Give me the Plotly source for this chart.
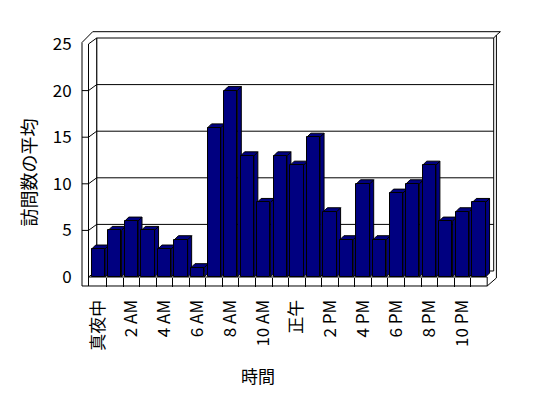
import plotly.graph_objects as go

# ---- data ----
hours = list(range(24))
visits = [3, 5, 6, 5, 3, 4, 1, 16, 20, 13, 8, 13, 12, 15, 7, 4, 10, 4, 9, 10, 12, 6, 7, 8]
tick_hours = [0, 2, 4, 6, 8, 10, 12, 14, 16, 18, 20, 22]
tick_labels = ["真夜中", "2 AM", "4 AM", "6 AM", "8 AM", "10 AM", "正午",
               "2 PM", "4 PM", "6 PM", "8 PM", "10 PM"]
y_ticks = [0, 5, 10, 15, 20, 25]
y_title = "訪問数の平均"
x_title = "時間"

# ---- geometry (pixels) ----
W, H = 548, 398
X0, CW = 90.0, 16.55          # pixel of x=-0.5, width of one category
Y0, S = 277.0, 9.32           # pixel of y=0, pixels per unit
XMAX = 24.0
YMAX = 25.0
DX, DY = 8.2, 6.0             # wall depth in pixels
BDX, BDY = 4.0, 4.0           # bar depth in pixels
BW = 0.8

def fx(i):
    return X0 + (i + 0.5) * CW

def fy(v):
    return Y0 - v * S

def P(x, y):
    return x / W, 1 - y / H

FONT = "Noto Sans CJK JP, DejaVu Sans, sans-serif"

fig = go.Figure()

# bar side and top faces (through data scales)
ddx = BDX / CW
ddy = BDY / S
sx, sy, tx, ty = [], [], [], []
for h, v in zip(hours, visits):
    xl, xr = h - BW / 2, h + BW / 2
    sx += [xr, xr + ddx, xr + ddx, xr, xr, None]
    sy += [0, ddy, v + ddy, v, 0, None]
    tx += [xl, xl + ddx, xr + ddx, xr, xl, None]
    ty += [v, v + ddy, v + ddy, v, v, None]

fig.add_trace(go.Scatter(x=sx, y=sy, mode="lines", fill="toself",
                         fillcolor="#000080", line=dict(color="black", width=1),
                         hoverinfo="skip", showlegend=False, zorder=0))
fig.add_trace(go.Scatter(x=tx, y=ty, mode="lines", fill="toself",
                         fillcolor="#000080", line=dict(color="black", width=1),
                         hoverinfo="skip", showlegend=False, zorder=0))
fig.add_trace(go.Bar(x=hours, y=visits, width=BW,
                     marker=dict(color="#000080", line=dict(color="black", width=1)),
                     showlegend=False, zorder=1))

# ---- frame (walls / floor) ----
left_out = 82.0
left_in = left_out + 6.5
back_l = left_in + DX
right_front = X0 + 24 * CW
back_r = right_front + 6.5
outer_r = back_r + 2.7
top_front = fy(YMAX)
top_back = top_front - DY
top_outer = top_back - 6.3
floor_bot = Y0 + 9

def path(pts, close=False):
    s = ""
    for k, (x, y) in enumerate(pts):
        a, b = P(x, y)
        s += ("M" if k == 0 else "L") + f"{a:.5f},{b:.5f} "
    return s + ("Z" if close else "")

shapes = []
line = dict(color="black", width=1)
# outer silhouette
shapes.append(dict(type="path", xref="paper", yref="paper", layer="below",
                   path=path([(left_out, floor_bot), (left_out, top_front - 1.5),
                              (left_out + 10.7, top_outer), (outer_r + 4, top_outer),
                              (outer_r, top_outer + 3.4), (outer_r, Y0 + 1),
                              (right_front, floor_bot)], True),
                   fillcolor="white", line=line))
# back wall
shapes.append(dict(type="path", xref="paper", yref="paper", layer="below",
                   path=path([(back_l, top_back), (back_r, top_back),
                              (back_r, Y0 - DY), (back_l, Y0 - DY)], True),
                   fillcolor="white", line=line))
# side wall inner surface
shapes.append(dict(type="path", xref="paper", yref="paper", layer="below",
                   path=path([(left_in, top_front), (back_l, top_back),
                              (back_l, Y0 - DY), (left_in, Y0)], True),
                   fillcolor="white", line=line))
# top-right corner diagonal
shapes.append(dict(type="path", xref="paper", yref="paper", layer="below",
                   path=path([(outer_r, top_outer + 3.4), (back_r, top_back)]),
                   line=line))
# floor front face
shapes.append(dict(type="path", xref="paper", yref="paper", layer="below",
                   path=path([(left_in, Y0), (right_front, Y0),
                              (right_front, floor_bot)]),
                   line=line))
# left wall inner front edge
shapes.append(dict(type="path", xref="paper", yref="paper", layer="below",
                   path=path([(left_in, top_front), (left_in, floor_bot)]),
                   line=line))
# gridlines
for v in y_ticks[1:-1]:
    yy = fy(v)
    shapes.append(dict(type="path", xref="paper", yref="paper", layer="below",
                       path=path([(left_out, yy), (left_in, yy),
                                  (back_l, yy - DY), (back_r, yy - DY)]),
                       line=line))

fig.update_layout(
    width=W, height=H,
    margin=dict(l=0, r=0, t=0, b=0, pad=0),
    paper_bgcolor="white", plot_bgcolor="rgba(0,0,0,0)",
    font=dict(family=FONT, size=17, color="black"),
    bargap=0,
    shapes=shapes,
    xaxis=dict(domain=[X0 / W, (X0 + (XMAX + 0.5) * CW) / W], automargin=False,
               range=[-0.5, XMAX], showgrid=False, zeroline=False, showline=False,
               tickmode="array", tickvals=tick_hours, ticktext=tick_labels,
               tickangle=-90, ticks="outside", ticklen=15,
               tickcolor="rgba(0,0,0,0)",
               minor=dict(tickmode="array",
                          tickvals=[h + 0.5 for h in hours[:-1]],
                          ticks="outside", ticklen=9, tickcolor="black", tickwidth=1),
               tickfont=dict(family=FONT, size=17, color="black")),
    yaxis=dict(domain=[1 - Y0 / H, 1 - fy(YMAX) / H], automargin=False,
               range=[0, YMAX], showgrid=False, zeroline=False, showline=False,
               tickmode="array", tickvals=y_ticks, ticks="outside", ticklen=14,
               tickcolor="rgba(0,0,0,0)",
               tickfont=dict(family=FONT, size=17, color="black")),
    annotations=[
        dict(text=y_title, xref="paper", yref="paper", x=27.5 / W, y=1 - 173 / H,
             textangle=-90, showarrow=False, xanchor="center", yanchor="middle",
             font=dict(family=FONT, size=18, color="black")),
        dict(text=x_title, xref="paper", yref="paper", x=258 / W, y=1 - 375 / H,
             showarrow=False, xanchor="center", yanchor="middle",
             font=dict(family=FONT, size=17, color="black")),
    ],
)

fig.write_html("out.html")
